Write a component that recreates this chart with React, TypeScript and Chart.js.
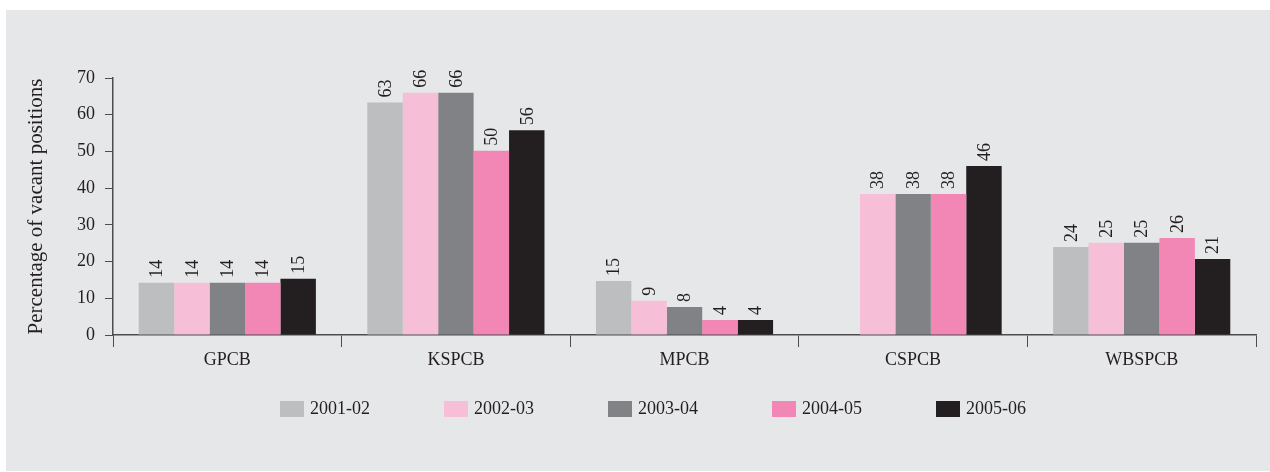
import React, { useEffect, useRef } from "react";
import { Chart, registerables } from "chart.js";

Chart.register(...registerables);

const categories = ["GPCB", "KSPCB", "MPCB", "CSPCB", "WBSPCB"];
const seriesLabels = ["2001-02", "2002-03", "2003-04", "2004-05", "2005-06"];
const s2001_02 = [14.2, 63.3, 14.7, null, 24.0];
const s2002_03 = [14.2, 66.0, 9.3, 38.4, 25.1];
const s2003_04 = [14.2, 66.0, 7.6, 38.4, 25.1];
const s2004_05 = [14.2, 50.2, 4.1, 38.4, 26.4];
const s2005_06 = [15.3, 55.8, 4.1, 46.0, 20.7];
const yTicks = [0, 10, 20, 30, 40, 50, 60, 70];
const yTitle = "Percentage of vacant positions";

const colors = ["#bcbec0", "#f6bfd7", "#808285", "#f287b5", "#231f20"];
const FONT = "'Liberation Serif', 'DejaVu Serif', serif";
const TEXT = "#231f20";
const AXIS = "#4d4d4f";

const valueLabels = {
  id: "valueLabels",
  afterDatasetsDraw(chart: any) {
    const ctx = chart.ctx;
    ctx.save();
    ctx.font = `18px ${FONT}`;
    ctx.fillStyle = TEXT;
    ctx.textAlign = "left";
    ctx.textBaseline = "middle";
    chart.data.datasets.forEach((ds: any, di: number) => {
      const meta = chart.getDatasetMeta(di);
      meta.data.forEach((bar: any, i: number) => {
        const v = ds.data[i];
        if (v === null || v === undefined) return;
        ctx.save();
        ctx.translate(bar.x, bar.y - 5);
        ctx.rotate(-Math.PI / 2);
        ctx.fillText(String(Math.round(v)), 0, 1);
        ctx.restore();
      });
    });
    ctx.restore();
  },
};

const customLegend = {
  id: "customLegend",
  afterDraw(chart: any) {
    const ctx = chart.ctx;
    const area = chart.chartArea;
    const startX = area.left + 167;
    const pitch = 164;
    const y = area.bottom + 66;
    ctx.save();
    ctx.font = `18px ${FONT}`;
    ctx.textAlign = "left";
    ctx.textBaseline = "middle";
    chart.data.datasets.forEach((ds: any, i: number) => {
      const x = startX + i * pitch;
      ctx.fillStyle = ds.backgroundColor;
      ctx.fillRect(x, y, 24, 16);
      ctx.fillStyle = TEXT;
      ctx.fillText(ds.label, x + 30, y + 8.5);
    });
    ctx.restore();
  },
};

export default function App() {
  const ref = useRef<HTMLCanvasElement | null>(null);
  useEffect(() => {
    if (!ref.current) return;
    const allSeries = [s2001_02, s2002_03, s2003_04, s2004_05, s2005_06];
    const chart = new Chart(ref.current, {
      type: "bar",
      data: {
        labels: categories,
        datasets: allSeries.map((d, i) => ({
          label: seriesLabels[i],
          data: d,
          backgroundColor: colors[i],
          borderWidth: 0,
          categoryPercentage: 0.775,
          barPercentage: 1,
        })),
      },
      options: {
        animation: false,
        responsive: false,
        maintainAspectRatio: false,
        layout: { padding: { top: 68, right: 14, bottom: 0, left: 0 } },
        plugins: {
          legend: { display: false },
          tooltip: { enabled: false },
        },
        scales: {
          x: {
            grid: {
              drawOnChartArea: false,
              drawTicks: true,
              tickLength: 12,
              color: AXIS,
              lineWidth: 1,
              offset: true,
            },
            border: { display: true, color: AXIS, width: 1.5 },
            ticks: {
              color: TEXT,
              font: { family: FONT, size: 18 },
              padding: 2,
            },
            afterFit(scale: any) {
              scale.height = 136;
            },
          },
          y: {
            min: 0,
            max: 70,
            afterBuildTicks(scale: any) {
              scale.ticks = yTicks.map((v) => ({ value: v }));
            },
            grid: {
              drawOnChartArea: false,
              drawTicks: true,
              tickLength: 8,
              color: AXIS,
              lineWidth: 1,
            },
            border: { display: true, color: AXIS, width: 1.5 },
            ticks: {
              color: TEXT,
              font: { family: FONT, size: 18 },
              padding: 10,
            },
            title: {
              display: true,
              text: yTitle,
              color: TEXT,
              font: { family: FONT, size: 21 },
              padding: { top: 18, bottom: 0 },
            },
            afterFit(scale: any) {
              scale.width = 107;
            },
          },
        },
      },
      plugins: [valueLabels, customLegend],
    });
    return () => chart.destroy();
  }, []);
  return (
    <div
      style={{
        position: "fixed",
        left: 6,
        top: 10,
        width: 1264,
        height: 461,
        background: "#e6e7e8",
      }}
    >
      <canvas ref={ref} width={1264} height={461} style={{ display: "block" }} />
    </div>
  );
}
